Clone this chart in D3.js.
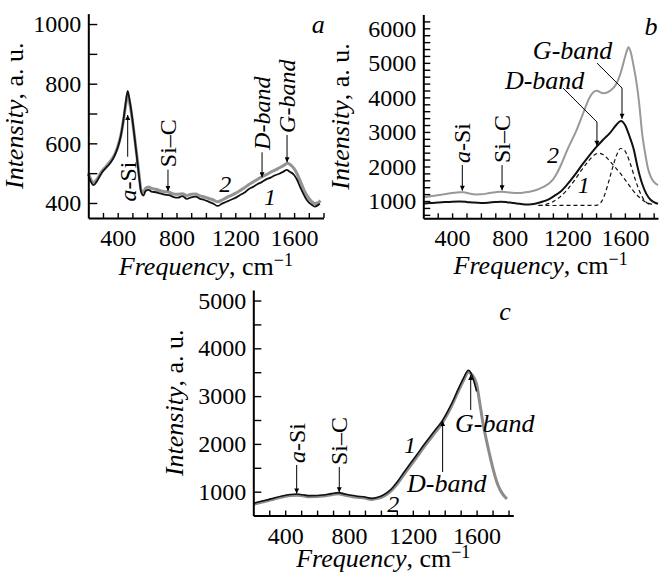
<!DOCTYPE html>
<html><head><meta charset="utf-8">
<script src="https://cdn.jsdelivr.net/npm/d3@7"></script>
</head><body style="margin:0;background:#fff">
<svg id="chart" width="659" height="577" style="display:block"></svg>
<script>
// ---------- DATA (frequency cm^-1, intensity a.u.) ----------
const xTickLabels = [400, 800, 1200, 1600];
const aYLabels = [400, 600, 800, 1000];
const bYLabels = [1000, 2000, 3000, 4000, 5000, 6000];
const cYLabels = [1000, 2000, 3000, 4000, 5000];

// panel a
const a1 = [[200,495],[215,474],[235,460],[260,474],[290,500],[320,518],[350,534],[380,560],[400,585],[420,622],[440,682],[455,738],[468,776],[480,748],[495,700],[510,640],[530,555],[545,490],[560,435],[575,425],[590,440],[610,444],[630,438],[660,436],[690,432],[720,428],[750,426],[780,420],[810,418],[840,423],[870,414],[900,419],[930,421],[960,414],[990,410],[1020,404],[1050,398],[1080,390],[1110,398],[1140,404],[1170,411],[1200,417],[1230,426],[1260,434],[1290,446],[1320,454],[1350,463],[1380,470],[1410,479],[1440,485],[1470,493],[1500,498],[1530,506],[1550,511],[1570,505],[1600,494],[1620,478],[1640,455],[1660,434],[1680,415],[1700,402],[1720,394],[1740,388],[1760,392],[1775,398]];
const a2 = [[200,500],[215,482],[235,468],[260,480],[290,505],[320,522],[350,540],[380,563],[400,588],[420,624],[440,680],[455,730],[468,764],[480,740],[495,695],[510,640],[530,560],[545,496],[560,442],[575,436],[590,450],[610,454],[630,449],[660,446],[690,441],[720,438],[750,436],[780,430],[810,429],[840,431],[870,425],[900,429],[930,430],[960,424],[990,420],[1020,415],[1050,410],[1080,404],[1110,410],[1140,418],[1170,425],[1200,432],[1230,441],[1260,450],[1290,461],[1320,470],[1350,479],[1380,488],[1410,495],[1440,503],[1470,510],[1500,518],[1530,526],[1555,533],[1575,528],[1600,515],[1620,498],[1640,476],[1660,452],[1680,431],[1700,416],[1720,405],[1740,398],[1760,400],[1780,408]];

// panel b
const b1 = [[200,930],[250,940],[300,955],[350,970],[400,982],[450,986],[500,975],[550,955],[600,945],[650,952],[700,970],[740,980],[780,965],[830,940],[880,915],[920,900],[950,905],[990,935],[1030,985],[1070,1050],[1110,1150],[1150,1260],[1200,1480],[1250,1740],[1300,2030],[1350,2300],[1404,2574],[1450,2780],[1500,2990],[1540,3200],[1573,3320],[1600,3210],[1630,2900],[1660,2520],[1690,1950],[1720,1500],[1750,1200],[1780,1030],[1810,950],[1830,920]];
const b2 = [[200,1110],[250,1140],[300,1170],[350,1200],[400,1230],[450,1255],[480,1252],[520,1215],[560,1192],[600,1196],[650,1222],[700,1255],[740,1270],[780,1256],[830,1236],[880,1236],[930,1262],[980,1310],[1030,1400],[1070,1500],[1100,1620],[1130,1820],[1160,2080],[1200,2480],[1265,3060],[1310,3540],[1358,4020],[1404,4190],[1450,4120],[1497,4190],[1543,4410],[1570,4700],[1590,5000],[1610,5300],[1625,5450],[1640,5320],[1660,4920],[1680,4450],[1700,3800],[1720,2950],[1740,2400],[1760,1950],[1780,1700],[1800,1560],[1830,1460]];
const bD = [[1000,875],[1050,900],[1100,980],[1150,1120],[1200,1330],[1250,1600],[1300,1900],[1350,2170],[1390,2340],[1420,2385],[1450,2340],[1490,2180],[1530,1990],[1570,1790],[1610,1570],[1650,1340],[1700,1110],[1750,960],[1790,900]];
const bG = [[1000,870],[1200,872],[1400,875],[1420,900],[1450,1080],[1480,1450],[1510,1900],[1540,2300],[1570,2520],[1590,2500],[1610,2380],[1640,2050],[1670,1650],[1700,1300],[1730,1050],[1760,930],[1790,890]];

// panel c
const c1 = [[200,757],[250,800],[284,826],[330,870],[388,917],[430,940],[472,952],[510,935],[555,917],[600,920],[639,931],[690,960],[733,980],[770,955],[806,931],[850,905],[890,895],[942,861],[980,885],[1015,931],[1050,1010],[1078,1105],[1110,1240],[1140,1385],[1180,1570],[1224,1768],[1265,1960],[1308,2151],[1345,2310],[1381,2465],[1420,2690],[1454,2918],[1485,3150],[1517,3372],[1548,3540],[1565,3480],[1580,3340],[1600,3100]];
const c2 = [[200,735],[250,778],[284,805],[330,848],[388,895],[430,918],[472,928],[510,913],[555,895],[600,898],[639,908],[690,938],[733,956],[770,933],[806,908],[850,883],[890,873],[942,838],[980,860],[1015,903],[1050,978],[1078,1068],[1110,1198],[1140,1338],[1180,1520],[1224,1720],[1265,1910],[1308,2100],[1345,2262],[1381,2420],[1420,2640],[1454,2870],[1485,3100],[1517,3320],[1548,3500],[1570,3450],[1600,3250],[1620,2850],[1640,2430],[1660,2100],[1680,1800],[1705,1450],[1725,1220],[1747,1040],[1770,920],[1790,850]];

// ---------- DRAWING ----------
const FONT = '"Times New Roman", Tinos, "Liberation Serif", FreeSerif, "DejaVu Serif", serif';
const svg = d3.select("#chart");
svg.append("defs").append("marker").attr("id","ah")
  .attr("viewBox","0 0 10 10").attr("refX",10).attr("refY",5)
  .attr("markerWidth",8).attr("markerHeight",5).attr("markerUnits","userSpaceOnUse")
  .attr("orient","auto")
  .append("path").attr("d","M0,0 L10,5 L0,10 Z").attr("fill","#000");

function mkText(parent){
  return parent.append("text").style("font-family",FONT);
}

function drawPanel(p){
  const x = d3.scaleLinear().domain(p.xd).range(p.xr);
  const y = d3.scaleLinear().domain(p.yd).range(p.yr);
  const g = svg.append("g");
  const line = d3.line().x(d=>x(d[0])).y(d=>y(d[1])).curve(d3.curveMonotoneX);
  p.series.forEach(s=>{
    g.append("path").datum(s.data).attr("d",line).attr("fill","none")
     .attr("stroke",s.color).attr("stroke-width",s.w)
     .attr("stroke-dasharray",s.dash||null).attr("stroke-linejoin","round");
  });
  const xa = d3.axisBottom(x).tickValues(d3.range(300,1801,100))
     .tickSizeInner(-5).tickSizeOuter(0).tickPadding(11)
     .tickFormat(d=>xTickLabels.includes(d)?d:"");
  const gx = g.append("g").attr("transform",`translate(0,${p.yr[0]})`).call(xa);
  const ya = d3.axisLeft(y).tickValues(p.yticks)
     .tickSizeInner(-p.ytl).tickSizeOuter(0).tickPadding(7)
     .tickFormat(d=>p.ylab.includes(d)?d:"");
  const gy = g.append("g").attr("transform",`translate(${p.xr[0]},0)`).call(ya);
  [gx,gy].forEach(a=>{
    a.attr("font-family",null).attr("font-size",null);
    a.select(".domain").attr("stroke","#000").attr("stroke-width",2);
    a.selectAll(".tick line").attr("stroke","#000").attr("stroke-width",1.4);
    a.selectAll("text").style("font-family",FONT).style("font-size","24px").attr("fill","#000");
  });
  const xt = mkText(g).attr("x",(p.xr[0]+p.xr[1])/2).attr("y",p.xtY)
     .attr("text-anchor","middle").style("font-size","26px");
  xt.append("tspan").text("Frequency").style("font-style","italic");
  xt.append("tspan").text(", cm");
  xt.append("tspan").text("\u22121").attr("dy","-0.5em").style("font-size","18px");
  const yt = mkText(g).attr("transform",`translate(${p.ytX},${(p.yr[0]+p.yr[1])/2}) rotate(-90)`)
     .attr("text-anchor","middle").style("font-size","26px");
  yt.append("tspan").text("Intensity").style("font-style","italic");
  yt.append("tspan").text(", a. u.");
  return {x,y,g};
}

function vtext(P, cx, cv, parts, size){
  const t = mkText(P.g)
    .attr("transform",`translate(${P.x(cx)},${P.y(cv)}) rotate(-90)`)
    .attr("dy","0.33em").style("font-size",(size||24)+"px");
  parts.forEach(([s,it])=>t.append("tspan").text(s).style("font-style",it?"italic":"normal"));
}
function htext(P, cx, cv, parts, anchor, size){
  const t = mkText(P.g).attr("x",P.x(cx)).attr("y",P.y(cv))
    .attr("text-anchor",anchor||"start").style("font-size",(size||25)+"px");
  parts.forEach(([s,it])=>t.append("tspan").text(s).style("font-style",it?"italic":"normal"));
}
function arrow(P, pts){
  P.g.append("path").attr("d",d3.line()(pts.map(d=>[P.x(d[0]),P.y(d[1])])))
   .attr("fill","none").attr("stroke","#000").attr("stroke-width",1).attr("marker-end","url(#ah)");
}

// Panel a
const A = drawPanel({xd:[200,1800], xr:[88.3,323.5], yd:[350,1035], yr:[217.9,13.6],
  yticks:d3.range(400,1001,100), ylab:aYLabels, ytl:9, xtY:275, ytX:23,
  series:[{data:a2,color:"#949494",w:3},{data:a1,color:"#111",w:1.8}]});
vtext(A,468,405,[["a",true],["-Si",false]]);
arrow(A,[[468,555],[468,695]]);
vtext(A,742,520,[["Si\u2013C",false]]);
arrow(A,[[742,512],[742,440]]);
vtext(A,1382,578,[["D-band",true]]);
arrow(A,[[1382,570],[1382,486]]);
vtext(A,1552,635,[["G-band",true]]);
arrow(A,[[1552,628],[1552,537]]);
htext(A,1131,437,[["2",true]],"middle",24);
htext(A,1436,393,[["1",true]],"middle",24);
htext(A,1765,970,[["a",true]],"middle",26);

// Panel b
const B = drawPanel({xd:[200,1830], xr:[423.3,658], yd:[500,6400], yr:[218.3,14.5],
  yticks:d3.range(600,6201,200), ylab:bYLabels, ytl:7, xtY:274, ytX:349,
  series:[{data:b2,color:"#999",w:2},{data:bD,color:"#111",w:1.2,dash:"4,3"},{data:bG,color:"#111",w:1.2,dash:"4,3"},{data:b1,color:"#111",w:2}]});
vtext(B,471,2100,[["a",true],["-Si",false]]);
arrow(B,[[471,2042],[471,1300]]);
vtext(B,747,2100,[["Si\u2013C",false]]);
arrow(B,[[747,2042],[747,1310]]);
htext(B,1101,2100,[["2",true]],"middle",24);
htext(B,1315,1232,[["1",true]],"middle",24);
htext(B,767,4243,[["D-band",true]],"start",26);
arrow(B,[[1170,4271],[1406,3287],[1406,2600]]);
htext(B,961,5111,[["G-band",true]],"start",26);
arrow(B,[[1406,4995],[1580,4271],[1580,3380]]);
htext(B,1781,5806,[["b",true]],"middle",26);

// Panel c
const C = drawPanel({xd:[200,1830], xr:[253.3,513.3], yd:[500,5220], yr:[515.6,290],
  yticks:d3.range(1000,5001,500), ylab:cYLabels, ytl:8, xtY:567, ytX:183,
  series:[{data:c2,color:"#8c8c8c",w:3},{data:c1,color:"#111",w:1.6}]});
vtext(C,472,1600,[["a",true],["-Si",false]]);
arrow(C,[[472,1559],[472,965]]);
vtext(C,739,1559,[["Si\u2013C",false]]);
arrow(C,[[739,1517],[739,990]]);
htext(C,1182,1810,[["1",true]],"middle",24);
htext(C,1077,575,[["2",true]],"middle",24);
htext(C,1164,995,[["D-band",true]],"start",26);
arrow(C,[[1387,1412],[1387,2480]]);
htext(C,1465,2249,[["G-band",true]],"start",26);
arrow(C,[[1563,2709],[1563,3440]]);
htext(C,1778,4592,[["c",true]],"middle",26);
</script>
</body></html>
